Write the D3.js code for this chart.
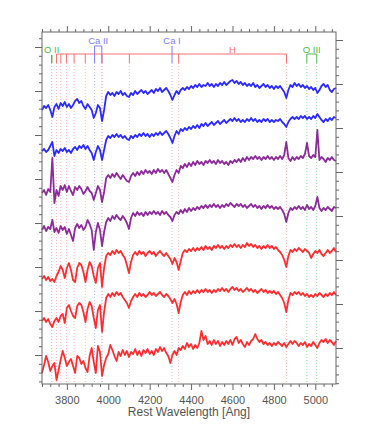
<!DOCTYPE html>
<html>
<head>
<meta charset="utf-8">
<script src="https://cdn.jsdelivr.net/npm/d3@7"></script>
<style>
  body { margin: 0; background: #fff; }
  text { font-family: "Liberation Sans", Arial, Helvetica, sans-serif; }
</style>
</head>
<body>
<div id="chart"></div>
<script>
// wavelength grid of the spectra (Angstrom, rest frame)
const waveStart = 3680, waveStep = 10;

// offset fluxes, one value per grid point (3680..5100)
const blueA = [
  27.4, 27.8, 27.6, 27.9, 27.4, 26.7, 27.7, 28.0, 27.5, 28.1,
  27.8, 28.2, 27.7, 28.0, 27.6, 27.9, 28.3, 28.5, 28.1, 28.3,
  27.8, 27.5, 28.0, 27.7, 27.4, 26.6, 27.1, 27.9, 27.6, 26.3,
  27.4, 28.8, 29.2, 28.9, 29.1, 28.8, 29.2, 29.0, 29.3, 28.9,
  29.1, 28.8, 28.7, 29.1, 28.9, 29.3, 29.0, 29.2, 29.4, 29.1,
  29.3, 29.0, 29.2, 29.4, 29.1, 29.5, 29.3, 29.6, 29.2, 29.4,
  29.6, 29.3, 28.9, 28.4, 28.9, 29.3, 29.0, 29.4, 29.6, 29.4,
  29.7, 29.5, 29.8, 29.6, 29.9, 29.7, 30.0, 29.7, 29.9, 29.8,
  30.1, 29.8, 30.0, 29.7, 30.0, 29.8, 30.1, 29.9, 30.2, 29.9,
  30.1, 30.3, 30.4, 30.1, 30.3, 30.0, 30.2, 29.9, 30.1, 29.8,
  30.0, 29.8, 30.1, 29.7, 29.9, 29.6, 29.8, 30.0, 29.7, 29.9,
  29.6, 29.8, 29.5, 29.8, 29.6, 29.8, 29.5, 29.2, 28.6, 29.4,
  29.9, 29.7, 30.1, 29.8, 30.0, 29.7, 29.9, 29.6, 29.8, 29.5,
  29.7, 29.4, 29.6, 29.1, 29.4, 29.8, 30.0, 29.7, 29.9, 29.4,
  29.2, 29.5, 29.6
];
const blueB = [
  23.3, 23.5, 23.2, 23.4, 23.8, 24.2, 22.8, 23.4, 23.1, 23.5,
  23.3, 23.6, 23.2, 23.4, 23.1, 23.5, 23.7, 23.4, 23.8, 23.6,
  23.9, 23.5, 23.8, 23.4, 23.1, 22.4, 23.2, 23.8, 23.4, 22.4,
  23.4, 24.4, 24.8, 24.6, 24.9, 24.7, 25.0, 24.7, 24.9, 24.6,
  24.8, 24.5, 24.4, 24.8, 24.6, 24.9, 24.7, 25.0, 24.8, 25.1,
  24.8, 25.0, 24.7, 25.0, 24.8, 25.1, 24.9, 25.2, 24.9, 25.1,
  25.3, 25.0, 24.6, 24.1, 24.8, 25.3, 25.0, 25.5, 25.3, 25.6,
  25.4, 25.7, 25.5, 25.8, 25.6, 25.9, 25.6, 26.0, 25.8, 26.1,
  25.8, 26.0, 26.2, 25.9, 26.1, 26.3, 26.0, 26.2, 26.4, 26.1,
  26.3, 26.5, 26.3, 26.6, 26.3, 26.5, 26.2, 26.4, 26.2, 26.5,
  26.3, 26.6, 26.3, 26.5, 26.2, 26.4, 26.2, 26.5, 26.3, 26.5,
  26.2, 26.4, 26.2, 26.4, 26.3, 26.5, 26.2, 26.0, 25.7, 26.2,
  26.5, 26.7, 26.5, 26.7, 26.5, 26.8, 26.6, 26.8, 26.5, 26.7,
  26.5, 26.8, 26.6, 27.0, 26.7, 26.4, 26.2, 26.5, 26.3, 26.6,
  26.4, 26.7, 26.6
];
const purpleA = [
  19.1, 19.4, 18.9, 19.5, 19.2, 22.6, 18.1, 19.4, 18.8, 19.8,
  19.4, 19.9, 19.2, 19.8, 19.3, 18.9, 19.7, 19.4, 19.8, 19.5,
  19.0, 19.3, 19.7, 19.3, 19.1, 18.4, 19.1, 19.8, 19.4, 18.2,
  19.2, 20.6, 20.9, 20.6, 21.0, 20.7, 21.1, 20.8, 20.5, 20.9,
  20.6, 20.3, 20.2, 20.8, 21.1, 20.8, 21.2, 20.9, 21.3, 21.0,
  21.4, 21.1, 21.3, 21.0, 21.4, 21.1, 21.5, 21.2, 21.4, 21.1,
  21.4, 21.0, 20.6, 20.2, 20.9, 21.4, 21.1, 21.8, 21.6, 22.0,
  21.7, 22.1, 21.8, 22.2, 21.9, 22.3, 22.0, 22.2, 21.9, 22.3,
  22.1, 22.4, 22.1, 22.3, 22.0, 22.4, 22.1, 22.3, 22.0, 22.2,
  21.9, 22.3, 22.1, 22.4, 22.2, 22.5, 22.2, 22.6, 22.3, 22.7,
  22.4, 22.7, 22.5, 22.8, 22.5, 22.7, 22.4, 22.7, 22.5, 22.8,
  22.5, 22.7, 22.4, 22.7, 22.5, 22.8, 22.5, 22.9, 24.2, 22.6,
  22.3, 22.7, 22.4, 22.7, 22.5, 22.8, 22.6, 23.0, 24.1, 22.8,
  22.6, 22.9, 22.7, 25.4, 22.4, 22.7, 22.5, 22.2, 22.6, 22.4,
  22.7, 22.4, 22.3
];
const purpleB = [
  15.4, 15.8, 15.3, 15.7, 15.5, 16.4, 15.2, 15.6, 15.1, 15.8,
  15.4, 15.7, 15.0, 15.5, 14.9, 14.3, 15.6, 16.0, 15.6, 15.9,
  15.4, 15.7, 16.4, 16.0, 15.4, 13.4, 15.2, 16.1, 15.4, 13.8,
  15.2, 16.2, 16.6, 16.3, 16.8, 16.5, 16.9, 16.6, 16.4, 16.8,
  16.5, 16.1, 15.5, 16.6, 17.1, 16.8, 17.2, 16.9, 17.1, 16.8,
  17.2, 16.9, 17.2, 17.0, 17.3, 17.0, 17.2, 16.9, 17.3, 17.0,
  17.2, 16.9, 16.7, 16.3, 16.9, 17.2, 17.0, 17.4, 17.1, 17.5,
  17.2, 17.6, 17.3, 17.6, 17.4, 17.7, 17.5, 17.8, 17.6, 17.9,
  17.6, 17.9, 17.7, 18.0, 17.7, 17.9, 17.6, 17.9, 17.7, 18.0,
  17.8, 18.1, 17.9, 17.7, 18.0, 17.8, 18.0, 17.7, 17.9, 17.6,
  17.8, 18.0, 17.7, 17.9, 17.6, 17.8, 17.5, 17.8, 17.6, 17.9,
  17.6, 17.8, 17.5, 17.7, 17.5, 17.7, 17.4, 17.0, 16.2, 17.1,
  17.6, 17.4, 17.7, 17.5, 17.8, 17.5, 17.7, 17.4, 17.9, 17.5,
  17.7, 17.4, 17.8, 18.7, 17.6, 17.3, 17.6, 17.4, 17.7, 17.5,
  17.3, 17.7, 17.6
];
const redA = [
  10.5, 10.8, 10.4, 10.7, 10.3, 10.5, 10.2, 10.8, 11.2, 11.8,
  11.4, 10.6, 11.6, 12.1, 11.4, 10.4, 10.2, 11.6, 12.1, 11.9,
  11.2, 10.2, 11.4, 12.2, 11.8, 10.8, 10.1, 11.6, 12.1, 9.7,
  11.6, 12.8, 13.1, 12.9, 13.3, 13.0, 13.4, 13.1, 13.3, 12.9,
  12.6, 11.9, 11.1, 12.2, 12.9, 13.2, 12.9, 13.3, 13.0, 13.2,
  12.8, 13.1, 13.3, 13.0, 13.2, 12.8, 13.1, 13.3, 13.0, 12.8,
  13.1, 12.8, 12.5, 12.0, 12.6, 12.2, 11.4, 12.3, 13.1, 13.4,
  13.2, 13.5, 13.3, 13.6, 13.3, 13.6, 13.4, 13.7, 13.4, 13.8,
  13.5, 13.7, 13.4, 13.8, 13.6, 13.9, 13.6, 13.8, 13.5, 13.8,
  13.6, 13.9, 13.7, 14.0, 13.7, 13.9, 13.6, 13.9, 13.7, 14.1,
  13.8, 14.0, 13.7, 13.9, 13.6, 13.8, 13.5, 13.8, 13.6, 13.9,
  13.6, 13.8, 13.5, 13.7, 13.4, 13.2, 12.9, 12.4, 11.7, 12.8,
  13.4, 13.2, 13.5, 13.3, 13.6, 13.4, 13.2, 13.5, 13.3, 13.1,
  12.6, 13.0, 13.3, 13.1, 13.4, 13.0, 12.8, 13.1, 13.4, 13.1,
  13.3, 13.6, 13.2
];
const redB = [
  6.3, 6.6, 6.2, 6.5, 6.0, 5.7, 6.3, 6.6, 6.2, 6.8,
  7.0, 6.1, 7.6, 7.9, 7.3, 6.8, 6.6, 7.8, 8.1, 7.9,
  7.2, 6.2, 7.5, 8.2, 7.8, 6.6, 5.6, 7.4, 7.9, 5.2,
  7.2, 8.6, 9.0, 8.7, 9.1, 8.8, 9.2, 8.9, 9.1, 8.7,
  8.4, 8.1, 7.6, 8.3, 8.7, 9.0, 8.7, 9.1, 8.8, 9.0,
  8.7, 8.9, 9.2, 8.9, 9.1, 8.8, 9.0, 9.2, 8.9, 8.7,
  9.0, 8.8, 8.5, 8.1, 8.5, 8.0, 7.1, 8.2, 8.9, 9.2,
  8.9, 9.3, 9.0, 9.3, 9.1, 9.4, 9.1, 9.4, 9.2, 9.5,
  9.2, 9.4, 9.1, 9.4, 9.2, 9.5, 9.3, 9.6, 9.3, 9.5,
  9.2, 9.5, 9.7, 9.4, 9.6, 9.3, 9.5, 9.2, 9.4, 9.6,
  9.3, 9.5, 9.2, 9.4, 9.1, 9.3, 9.5, 9.2, 9.4, 9.1,
  9.3, 9.1, 9.3, 9.0, 9.2, 8.9, 8.6, 8.1, 7.2, 8.4,
  9.1, 8.9, 9.2, 9.0, 9.2, 8.9, 9.1, 8.8, 9.0, 8.7,
  8.9, 8.7, 9.0, 8.8, 9.1, 8.9, 8.7, 9.0, 8.8, 9.1,
  8.9, 9.2, 8.9
];
const redC = [
  1.1, 1.9, 2.8, 2.2, 1.3, 1.8, 2.1, 0.4, 1.4, 2.4,
  3.3, 2.6, 1.8, 2.2, 2.5, 1.8, 1.1, 2.8, 2.6, 2.0,
  2.3, 1.6, 1.2, 2.8, 3.6, 2.2, 1.1, 3.8, 3.2, 0.8,
  1.9, 2.6, 3.0, 3.9, 3.4, 2.8, 2.3, 3.2, 2.8, 3.4,
  2.9, 3.3, 2.7, 3.2, 3.0, 3.5, 2.9, 3.3, 2.8, 3.4,
  3.1, 3.5, 3.0, 3.3, 2.9, 3.5, 3.2, 3.7, 3.3, 3.6,
  3.1, 2.8, 2.1, 2.9, 3.3, 2.9, 3.6, 3.4, 3.8, 3.5,
  4.1, 3.7, 4.0, 3.5, 3.9, 3.6, 4.1, 5.3, 4.4, 4.8,
  4.0, 4.3, 3.9, 4.4, 4.0, 4.3, 3.8, 4.2, 3.9, 4.3,
  4.0, 4.4, 3.9, 4.5, 4.7, 4.1, 4.4, 4.0, 3.7, 4.2,
  3.9, 4.3, 4.5, 5.0, 4.5, 4.2, 4.4, 4.0, 4.2, 3.9,
  4.1, 3.8, 4.1, 3.9, 4.2, 4.0, 3.8, 4.1, 3.7, 4.0,
  4.3, 4.0, 4.3, 4.1, 3.8, 4.1, 3.9, 4.2, 3.7, 4.0,
  3.8, 4.2, 3.9, 3.6, 4.1, 4.4, 4.2, 4.5, 4.1, 4.4,
  4.2, 3.9, 4.3
];

// line identifications (Angstrom)
const oII = [3727];
const caII = [3934, 3969];
const caI = [4308];
const hLines = [3750, 3771, 3798, 3835, 3889, 3970, 4102, 4340, 4861];
const oIII = [4959, 5007];
const hLabelWave = 4600;

const xTickLabels = [3800, 4000, 4200, 4400, 4600, 4800, 5000];

// --- layout
const W = 372, H = 432;
const margin = {top: 32, right: 36, bottom: 48, left: 42};
const x0 = margin.left, x1 = W - margin.right;
const y0 = H - margin.bottom, y1 = margin.top;

const svg = d3.select("#chart").append("svg")
    .attr("width", W)
    .attr("height", H);

const x = d3.scaleLinear().domain([3680, 5100]).range([x0, x1]);
const y = d3.scaleLinear().domain([0, 35.2]).range([y0, y1]);

const waves = blueA.map((d, i) => waveStart + i * waveStep);

const axisCol = "#666";
const colGreen = "#4cbb4c", colBlue = "#7d7dff", colRed = "#ff6f6f";
const dotGreen = "#9ad99a", dotBlue = "#bbbbff", dotRed = "#ffb8b8";

// dotted line guides
const guideTop = 63;
function guides(list, col) {
    svg.append("g").selectAll("line").data(list).enter().append("line")
        .attr("x1", d => x(d)).attr("x2", d => x(d))
        .attr("y1", guideTop).attr("y2", y0)
        .attr("stroke", col)
        .attr("stroke-width", 1)
        .attr("stroke-dasharray", "1,2");
}
guides(hLines, dotRed);
guides(caII.concat(caI), dotBlue);
guides(oII.concat(oIII), dotGreen);

// markers above the spectra
const mk = svg.append("g").attr("fill", "none").attr("stroke-width", 1);
// H series
mk.append("line").attr("x1", x(d3.min(hLines))).attr("x2", x(d3.max(hLines)))
    .attr("y1", 54).attr("y2", 54).attr("stroke", colRed);
mk.selectAll(".hTick").data(hLines).enter().append("line")
    .attr("x1", d => x(d)).attr("x2", d => x(d))
    .attr("y1", 54).attr("y2", guideTop).attr("stroke", colRed);
// Ca II bracket
mk.append("path")
    .attr("d", `M${x(caII[0])},${guideTop}V46H${x(caII[1])}V${guideTop}`)
    .attr("stroke", colBlue);
// Ca I
mk.append("line").attr("x1", x(caI[0])).attr("x2", x(caI[0]))
    .attr("y1", 46).attr("y2", guideTop).attr("stroke", colBlue);
// O II
mk.append("line").attr("x1", x(oII[0])).attr("x2", x(oII[0]))
    .attr("y1", 55).attr("y2", guideTop).attr("stroke", colGreen).attr("stroke-width", 1.5);
// O III bracket
mk.append("path")
    .attr("d", `M${x(oIII[0])},${guideTop}V54H${x(oIII[1])}V${guideTop}`)
    .attr("stroke", colGreen);

const labels = [
    {t: "O II", w: oII[0], yy: 53, c: colGreen},
    {t: "Ca II", w: d3.mean(caII), yy: 44, c: colBlue},
    {t: "Ca I", w: caI[0], yy: 44, c: colBlue},
    {t: "H", w: hLabelWave, yy: 52.5, c: colRed},
    {t: "O III", w: d3.mean(oIII), yy: 53, c: colGreen}
];
svg.append("g").selectAll("text").data(labels).enter().append("text")
    .attr("x", d => x(d.w)).attr("y", d => d.yy)
    .attr("text-anchor", "middle")
    .style("font-size", "9.5px")
    .attr("fill", d => d.c)
    .text(d => d.t);

// spectra
const spectra = [
    {v: blueA, c: "#2b2bff"},
    {v: blueB, c: "#2b2bff"},
    {v: purpleA, c: "#8e2a9c"},
    {v: purpleB, c: "#8e2a9c"},
    {v: redA, c: "#ff2e2e"},
    {v: redB, c: "#ff2e2e"},
    {v: redC, c: "#ff2e2e"}
];
const line = d3.line()
    .x((d, i) => x(waves[i]))
    .y(d => y(d));
svg.append("g").selectAll("path").data(spectra).enter().append("path")
    .attr("d", d => line(d.v))
    .attr("fill", "none")
    .attr("stroke", d => d.c)
    .attr("stroke-width", 1.8)
    .attr("stroke-linejoin", "round");

// frame
svg.append("rect")
    .attr("x", x0).attr("y", y1)
    .attr("width", x1 - x0).attr("height", y0 - y1)
    .attr("fill", "none").attr("stroke", axisCol).attr("stroke-width", 1);

// axes: majors every 200 A, minors every 40 A
const xMinor = d3.range(3680, 5101, 40).filter(v => xTickLabels.indexOf(v) < 0);
function styleAxis(g) {
    g.select(".domain").remove();
    g.selectAll("line").attr("stroke", axisCol);
    g.selectAll("text").attr("fill", "#555").style("font-size", "11px");
}
svg.append("g").attr("transform", `translate(0,${y0})`)
    .call(d3.axisBottom(x).tickValues(xTickLabels).tickSize(6).tickPadding(6).tickFormat(d3.format("d")))
    .call(styleAxis);
svg.append("g").attr("transform", `translate(0,${y0})`)
    .call(d3.axisBottom(x).tickValues(xMinor).tickSize(3).tickFormat(""))
    .call(styleAxis);
svg.append("g").attr("transform", `translate(0,${y1})`)
    .call(d3.axisTop(x).tickValues(xTickLabels).tickSize(6).tickFormat(""))
    .call(styleAxis);
svg.append("g").attr("transform", `translate(0,${y1})`)
    .call(d3.axisTop(x).tickValues(xMinor).tickSize(3).tickFormat(""))
    .call(styleAxis);

// flux axes (no labels)
const leftMajor = d3.range(2.9, 35.2, 4.4);
const leftMinor = d3.range(0.26, 35.2, 0.88);
const rightMajor = d3.range(3.6, 35.2, 4.4);
const rightMinor = d3.range(0.08, 35.2, 0.88);
svg.append("g").attr("transform", `translate(${x0},0)`)
    .call(d3.axisLeft(y).tickValues(leftMinor).tickSize(3).tickFormat(""))
    .call(styleAxis);
svg.append("g").attr("transform", `translate(${x0},0)`)
    .call(d3.axisLeft(y).tickValues(leftMajor).tickSize(7).tickFormat(""))
    .call(styleAxis);
svg.append("g").attr("transform", `translate(${x1},0)`)
    .call(d3.axisRight(y).tickValues(rightMinor).tickSize(3).tickFormat(""))
    .call(styleAxis);
svg.append("g").attr("transform", `translate(${x1},0)`)
    .call(d3.axisRight(y).tickValues(rightMajor).tickSize(7).tickFormat(""))
    .call(styleAxis);

svg.append("text")
    .attr("x", (x0 + x1) / 2)
    .attr("y", 416)
    .attr("text-anchor", "middle")
    .attr("fill", "#555")
    .style("font-size", "12px")
    .text("Rest Wavelength [Ang]");
</script>
</body>
</html>
